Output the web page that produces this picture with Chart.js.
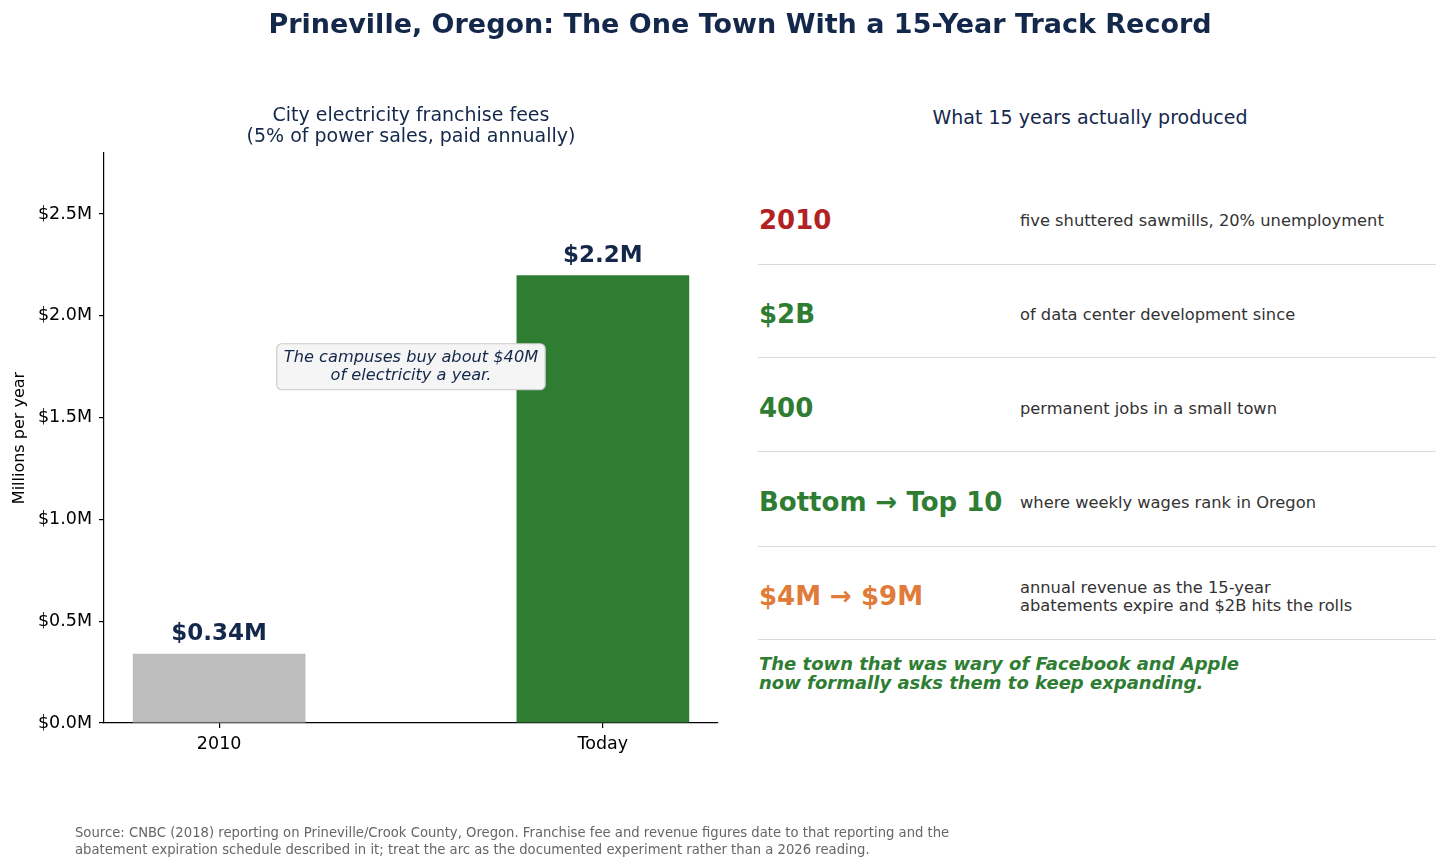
<!DOCTYPE html>
<html>
<head>
<meta charset="utf-8">
<script src="https://cdn.jsdelivr.net/npm/chart.js@4"></script>
<style>
  html, body { margin:0; padding:0; background:#fff; }
  body { width:1456px; height:868px; position:relative; overflow:hidden; font-family:"DejaVu Sans", sans-serif; }
  #wrap { position:absolute; left:0; top:0; width:740px; height:868px; }
  .abs { position:absolute; white-space:nowrap; }
  #title { left:0; width:1480px; top:8px; text-align:center; font-weight:bold; font-size:27px; color:#14284b; }
  #sub { left:111px; width:600px; top:104px; text-align:center; font-size:19px; line-height:21px; color:#14284b; }
  #rtitle { left:790px; width:600px; top:106px; text-align:center; font-size:19px; color:#14284b; }
  .big { left:759px; font-weight:bold; font-size:26px; line-height:30px; }
  .desc { left:1020px; font-size:16.3px; line-height:18px; color:#333; }
  .sep { position:absolute; left:758px; width:678px; height:1px; background:#d9d9d9; }
  #foot { left:759px; top:654px; font-weight:bold; font-style:italic; font-size:18px; line-height:19px; color:#2e7d32; }
  #src { left:75px; top:824px; font-size:13.2px; line-height:17px; color:#666; }
</style>
</head>
<body>
<div id="wrap"><canvas id="c"></canvas></div>
<div class="abs" id="title">Prineville, Oregon: The One Town With a 15-Year Track Record</div>
<div class="abs" id="sub">City electricity franchise fees<br>(5% of power sales, paid annually)</div>
<div class="abs" id="rtitle">What 15 years actually produced</div>
<div id="panel"></div>
<div class="abs" id="foot">The town that was wary of Facebook and Apple<br>now formally asks them to keep expanding.</div>
<div class="abs" id="src">Source: CNBC (2018) reporting on Prineville/Crook County, Oregon. Franchise fee and revenue figures date to that reporting and the<br>abatement expiration schedule described in it; treat the arc as the documented experiment rather than a 2026 reading.</div>
<script>
// ---- data ----
const categories = ["2010", "Today"];
const feeValues = [0.34, 2.2];           // $M per year
const valueLabels = ["$0.34M", "$2.2M"];
const barColors = ["#bdbdbd", "#2e7d32"];
const yTicks = [0, 0.5, 1.0, 1.5, 2.0, 2.5];
const annotationLines = ["The campuses buy about $40M", "of electricity a year."];

const statBig = ["2010", "$2B", "400", "Bottom \u2192 Top 10", "$4M \u2192 $9M"];
const statColors = ["#b22222", "#2e7d32", "#2e7d32", "#2e7d32", "#e07b39"];
const statDesc = [
  ["five shuttered sawmills, 20% unemployment"],
  ["of data center development since"],
  ["permanent jobs in a small town"],
  ["where weekly wages rank in Oregon"],
  ["annual revenue as the 15-year", "abatements expire and $2B hits the rolls"]
];

// ---- right panel (HTML text) ----
const panel = document.getElementById('panel');
const rowCenters = [220, 314, 408, 502, 596];
const sepYs = [264, 357, 451, 546, 639];
statBig.forEach((t, i) => {
  const b = document.createElement('div');
  b.className = 'abs big';
  b.style.top = (rowCenters[i] - 15) + 'px';
  b.style.color = statColors[i];
  b.textContent = t;
  panel.appendChild(b);
  const d = document.createElement('div');
  d.className = 'abs desc';
  const n = statDesc[i].length;
  d.style.top = (rowCenters[i] - n * 9 + 1) + 'px';
  d.innerHTML = statDesc[i].join('<br>');
  panel.appendChild(d);
});
sepYs.forEach(y => {
  const s = document.createElement('div');
  s.className = 'sep';
  s.style.top = y + 'px';
  panel.appendChild(s);
});

// ---- chart ----
const labelPlugin = {
  id: 'labels',
  afterDatasetsDraw(chart) {
    const ctx = chart.ctx;
    const meta = chart.getDatasetMeta(0);
    ctx.save();
    ctx.font = 'bold 23px "DejaVu Sans"';
    ctx.fillStyle = '#14284b';
    ctx.textAlign = 'center';
    ctx.textBaseline = 'bottom';
    meta.data.forEach((el, i) => {
      ctx.fillText(valueLabels[i], el.x, el.y - 8);
    });
    // annotation box
    const xs = chart.scales.x, ys = chart.scales.y;
    const cx = xs.getPixelForValue(0.5);
    const cy = ys.getPixelForValue(1.75);
    ctx.font = 'italic 16.2px "DejaVu Sans"';
    const w = Math.max(...annotationLines.map(l => ctx.measureText(l).width)) + 14;
    const h = 46;
    const bx = cx - w / 2, by = cy - h / 2;
    ctx.beginPath();
    ctx.roundRect(bx, by, w, h, 5);
    ctx.fillStyle = '#f5f5f5';
    ctx.fill();
    ctx.strokeStyle = '#cccccc';
    ctx.lineWidth = 1.2;
    ctx.stroke();
    ctx.fillStyle = '#14284b';
    ctx.textBaseline = 'middle';
    ctx.fillText(annotationLines[0], cx, cy - 9);
    ctx.fillText(annotationLines[1], cx, cy + 9);
    ctx.restore();
  }
};

new Chart(document.getElementById('c'), {
  type: 'bar',
  data: {
    datasets: [{
      data: feeValues.map((v, i) => ({ x: i, y: v })),
      backgroundColor: barColors,
      borderWidth: 0,
      barPercentage: 0.45,
      categoryPercentage: 1.0
    }]
  },
  options: {
    responsive: true,
    maintainAspectRatio: false,
    animation: false,
    layout: { padding: { top: 153, right: 22, bottom: 105, left: 0 } },
    plugins: { legend: { display: false }, tooltip: { enabled: false } },
    scales: {
      x: {
        type: 'linear',
        offset: false,
        min: -0.3, max: 1.3,
        afterBuildTicks(s) { s.ticks = categories.map((c, i) => ({ value: i })); },
        afterFit(s) { s.height = 40; },
        ticks: {
          callback: (v) => categories[v] ?? '',
          color: '#000', font: { family: 'DejaVu Sans', size: 17.5 }, padding: 6, autoSkip: false, maxRotation: 0
        },
        grid: { offset: false, drawOnChartArea: false, drawTicks: true, tickLength: 5, color: '#000', lineWidth: 1.2 },
        border: { display: true, color: '#000', width: 1.2 }
      },
      y: {
        min: 0, max: 2.8,
        afterBuildTicks(s) { s.ticks = yTicks.map(v => ({ value: v })); },
        afterFit(s) { s.width = 104; },
        ticks: {
          callback: (v) => '$' + v.toFixed(1) + 'M',
          color: '#000', font: { family: 'DejaVu Sans', size: 17.5 }, padding: 7
        },
        title: { display: true, text: 'Millions per year', color: '#000', font: { family: 'DejaVu Sans', size: 16 }, padding: { top: 10, bottom: 0 } },
        grid: { drawOnChartArea: false, drawTicks: true, tickLength: 5, color: '#000', lineWidth: 1.2 },
        border: { display: true, color: '#000', width: 1.2 }
      }
    }
  },
  plugins: [labelPlugin]
});
</script>
</body>
</html>
